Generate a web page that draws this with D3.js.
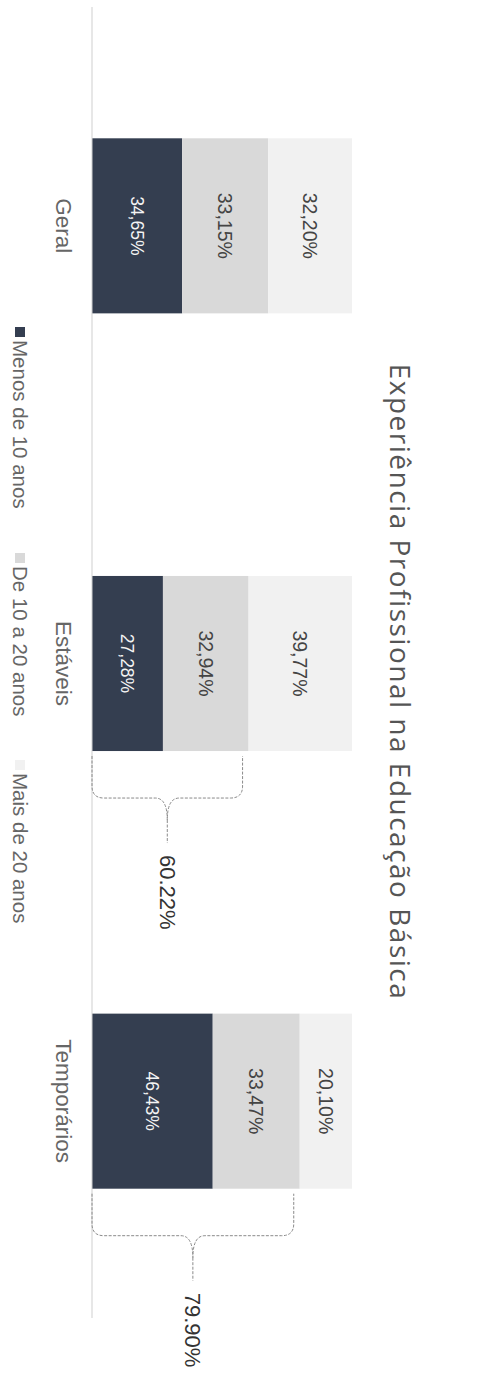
<!DOCTYPE html>
<html lang="pt">
<head>
<meta charset="UTF-8">
<title>Experiência Profissional na Educação Básica</title>
<script src="https://cdn.jsdelivr.net/npm/d3@7"></script>
<style>
  body { margin: 0; background: #fff; }
  svg { display: block; }
</style>
</head>
<body>
<div id="chart"></div>
<script>
// ====== DATA ======
var categories = ["Geral", "Estáveis", "Temporários"];
var seriesNames = ["Menos de 10 anos", "De 10 a 20 anos", "Mais de 20 anos"];
var menos10 = [34.65, 27.28, 46.43];
var de10a20 = [33.15, 32.94, 33.47];
var mais20 = [32.20, 39.77, 20.10];
var braceCategories = ["Estáveis", "Temporários"];
var braceTotals = [60.22, 79.90];
var titleText = "Experiência Profissional na Educação Básica";

var colors = ["#343e50", "#d9d9d9", "#f1f1f1"];
var labelColors = ["#f4f4f4", "#444", "#444"];

// ====== SIZES (chart drawn upright, then turned 90deg) ======
var W = 1382, H = 479;

var svg = d3.select("#chart").append("svg")
    .attr("width", H)
    .attr("height", W);

var g = svg.append("g")
    .attr("transform", "translate(" + H + ",0) rotate(90)");

var rows = categories.map(function(c, i) {
  return {cat: c, a: menos10[i], b: de10a20[i], c: mais20[i]};
});
var keys = ["a", "b", "c"];
var stacked = d3.stack().keys(keys)(rows);

var x = d3.scaleBand().domain(categories).range([7, 1320])
    .paddingInner(0.6).paddingOuter(0.3);
var y = d3.scaleLinear().domain([0, 100]).range([387, 127]);

/* ========== title ========== */
g.append("text")
    .attr("x", 682)
    .attr("y", 89)
    .attr("text-anchor", "middle")
    .style("font-family", "'Open Sans', sans-serif")
    .style("font-size", "28px")
    .style("letter-spacing", "1.5px")
    .style("fill", "#555")
    .text(titleText);

/* ========== bars ========== */
stacked.forEach(function(layer, li) {
  g.selectAll(".bar" + li)
    .data(layer)
    .enter().append("rect")
      .attr("class", "bar" + li)
      .attr("x", function(d) { return x(d.data.cat); })
      .attr("width", x.bandwidth())
      .attr("y", function(d) { return y(d[1]); })
      .attr("height", function(d) { return y(d[0]) - y(d[1]); })
      .attr("fill", colors[li]);

  g.selectAll(".lab" + li)
    .data(layer)
    .enter().append("text")
      .attr("class", "lab" + li)
      .attr("x", function(d) { return x(d.data.cat) + x.bandwidth() / 2; })
      .attr("y", function(d) { return (y(d[0]) + y(d[1])) / 2; })
      .attr("dy", "0.35em")
      .attr("text-anchor", "middle")
      .style("font-family", "'Liberation Sans', Arial, sans-serif")
      .style("font-size", li == 0 ? "17.5px" : "19.5px")
      .style("fill", labelColors[li])
      .text(function(d) { return (d[1] - d[0]).toFixed(2).replace(".", ",") + "%"; });
});

/* ========== axis ========== */
var xAxis = d3.axisBottom(x).tickSize(0).tickPadding(0);
var ax = g.append("g")
    .attr("transform", "translate(0," + y(0) + ")")
    .call(xAxis);
ax.select(".domain").attr("d", "M7,0H1318").attr("stroke", "#cfcfcf");
ax.selectAll("text")
    .attr("y", 36).attr("dy", 0)
    .style("font-family", "'Liberation Sans', Arial, sans-serif")
    .style("font-size", "22.5px")
    .style("fill", "#666");

/* ========== braces ========== */
braceCategories.forEach(function(c, i) {
  var xe = x(c) + x.bandwidth();
  var a = y(0), b = y(braceTotals[i]) + 6, m = (a + b) / 2;
  var x0 = xe + 5, x1 = xe + 47, x2 = xe + 92;
  var p = "M" + x0 + "," + a +
    " L" + (x1 - 12) + "," + a +
    " Q" + x1 + "," + a + " " + x1 + "," + (a - 12) +
    " L" + x1 + "," + (m + 12) +
    " Q" + x1 + "," + m + " " + (x1 + 22) + "," + m +
    " Q" + x1 + "," + m + " " + x1 + "," + (m - 12) +
    " L" + x1 + "," + (b + 12) +
    " Q" + x1 + "," + b + " " + (x1 - 12) + "," + b +
    " L" + x0 + "," + b +
    " M" + (x1 + 22) + "," + m + " L" + x2 + "," + m;
  g.append("path")
    .attr("d", p)
    .attr("fill", "none")
    .attr("stroke", "#8a8a8a")
    .attr("stroke-width", 1)
    .attr("stroke-dasharray", "3,1.5");
  g.append("text")
    .attr("x", xe + 104)
    .attr("y", m)
    .attr("dy", "0.35em")
    .style("font-family", "'Liberation Sans', Arial, sans-serif")
    .style("font-size", "22px")
    .style("fill", "#333")
    .text(braceTotals[i].toFixed(2) + "%");
});

/* ========== legend ========== */
var legendX = [327, 553, 760];
seriesNames.forEach(function(s, i) {
  var item = g.append("g").attr("transform", "translate(" + legendX[i] + ",0)");
  item.append("rect")
    .attr("x", 0).attr("y", 454)
    .attr("width", 10).attr("height", 10)
    .attr("fill", colors[i]);
  item.append("text")
    .attr("x", 13).attr("y", 466)
    .style("font-family", "'Liberation Sans', Arial, sans-serif")
    .style("font-size", "20.5px")
    .style("fill", "#666")
    .text(s);
});
</script>
</body>
</html>
